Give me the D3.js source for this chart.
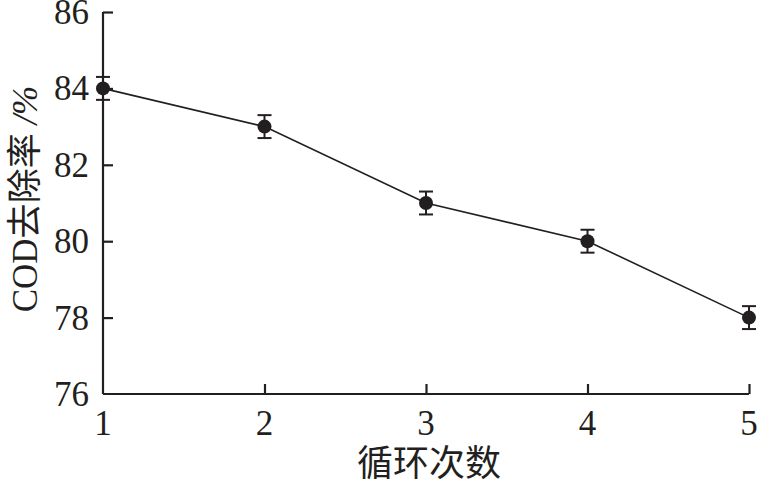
<!DOCTYPE html>
<html>
<head>
<meta charset="utf-8">
<script src="https://cdn.jsdelivr.net/npm/d3@7"></script>
<style>
  body { margin: 0; background: #fff; }
  svg { display: block; }
  .num { font-family: "Liberation Serif", "Times New Roman", serif; font-size: 35px; fill: #231f20; }
  .cjk { font-family: "Noto Sans CJK SC", sans-serif; fill: #231f20; }
</style>
</head>
<body>
<svg width="759" height="488"></svg>
<script>
    const cycles = [1, 2, 3, 4, 5];
    const removal = [84, 83, 81, 80, 78];
    const errors = [0.3, 0.3, 0.3, 0.3, 0.3];
    const yTicks = [76, 78, 80, 82, 84, 86];
    const xTicks = [1, 2, 3, 4, 5];

    const ink = '#231f20';
    const svg = d3.select('svg');

    const x = d3.scaleLinear().domain([1, 5]).range([103, 749]);
    const y = d3.scaleLinear().domain([76, 86]).range([394, 12]);

    const data = cycles.map((c, i) => ({ c, v: removal[i], e: errors[i] }));

    // axes: ticks pointing inward
    const yAxis = svg.append('g')
        .attr('transform', `translate(${x.range()[0]},0)`)
        .call(d3.axisRight(y).tickValues(yTicks).tickSize(10).tickFormat(''));
    yAxis.select('.domain').attr('d', `M0,${y(86)}V${y(76)}`);

    const xAxis = svg.append('g')
        .attr('transform', `translate(0,${y.range()[0]})`)
        .call(d3.axisTop(x).tickValues(xTicks).tickSize(10).tickFormat(''));
    xAxis.select('.domain').attr('d', `M${x(1)},0H${x(5)}`);

    svg.selectAll('.domain, .tick line')
        .attr('stroke', ink)
        .attr('stroke-width', 2.2);
    xAxis.selectAll('.tick').filter(d => d === 1).select('line').remove();
    yAxis.selectAll('.tick').filter(d => d === 76).select('line').remove();

    svg.append('g').selectAll('text').data(yTicks)
        .enter().append('text')
        .attr('class', 'num')
        .attr('x', 89)
        .attr('y', d => y(d))
        .attr('dy', '0.34em')
        .attr('text-anchor', 'end')
        .text(d => d);

    svg.append('g').selectAll('text').data(xTicks)
        .enter().append('text')
        .attr('class', 'num')
        .attr('x', d => x(d))
        .attr('y', 435)
        .attr('text-anchor', 'middle')
        .text(d => d);

    // line
    svg.append('path')
        .datum(data)
        .attr('fill', 'none')
        .attr('stroke', ink)
        .attr('stroke-width', 1.6)
        .attr('d', d3.line().x(d => x(d.c)).y(d => y(d.v)));

    // error bars
    const eb = svg.append('g').attr('stroke', ink).attr('stroke-width', 2);
    data.forEach(d => {
        const cx = x(d.c);
        eb.append('line').attr('x1', cx).attr('x2', cx).attr('y1', y(d.v - d.e)).attr('y2', y(d.v + d.e));
        eb.append('line').attr('x1', cx - 7).attr('x2', cx + 7).attr('y1', y(d.v + d.e)).attr('y2', y(d.v + d.e));
        eb.append('line').attr('x1', cx - 7).attr('x2', cx + 7).attr('y1', y(d.v - d.e)).attr('y2', y(d.v - d.e));
    });

    svg.append('g').selectAll('circle').data(data)
        .enter().append('circle')
        .attr('cx', d => x(d.c))
        .attr('cy', d => y(d.v))
        .attr('r', 7)
        .attr('fill', ink);

    // axis titles
    svg.append('text')
        .attr('class', 'cjk')
        .attr('x', 429)
        .attr('y', 476)
        .attr('text-anchor', 'middle')
        .style('font-size', '36px')
        .text('循环次数');

    const yTitle = svg.append('text')
        .attr('transform', 'translate(37,199) rotate(-90)')
        .attr('text-anchor', 'middle')
        .style('font-size', '35px');
    yTitle.append('tspan').attr('class', 'num').style('font-size', '35px').text('COD');
    yTitle.append('tspan').attr('class', 'cjk').text('去除率');
    yTitle.append('tspan').attr('class', 'num').style('font-size', '35px').style('font-style', 'italic').text(' /%');
</script>
</body>
</html>
